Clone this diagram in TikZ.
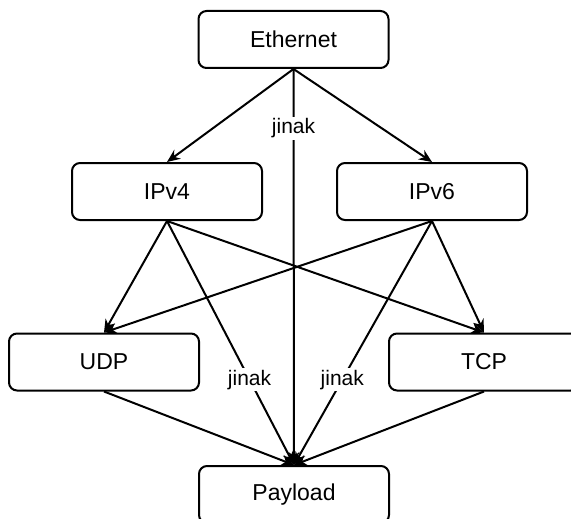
\documentclass[tikz,border=0pt]{standalone}
\usepackage{fontspec}
\setmainfont{Liberation Sans}
\usetikzlibrary{arrows.meta}
\begin{document}
\begin{tikzpicture}[x=1pt,y=-1pt,
  box/.style={draw, line width=2pt, rounded corners=8pt, minimum width=190pt, minimum height=57pt, inner sep=0pt, font=\fontsize{23}{27}\selectfont},
  conn/.style={line width=2pt, -{Stealth[length=13pt,width=11pt]}},
  lbl/.style={fill=white, inner sep=1.5pt, font=\fontsize{21}{24}\selectfont}]
\useasboundingbox (0,0) rectangle (571,519);
\node[box] (eth) at (293.5,39.5) {Ethernet};
\node[box] (ipv4) at (167,191.5) {IPv4};
\node[box] (ipv6) at (432,191.5) {IPv6};
\node[box] (udp) at (104,362) {UDP};
\node[box] (tcp) at (484,362) {TCP};
\node[box] (pay) at (294,494.5) {Payload};
\draw[conn] (eth.south) -- (ipv4.north);
\draw[conn] (eth.south) -- (ipv6.north);
\draw[conn] (eth.south) -- node[lbl, pos=0.15] (l1) {jinak} (pay.north);
\draw[conn] (ipv4.south) -- (udp.north);
\draw[conn] (ipv4.south) -- (tcp.north);
\draw[conn] (ipv4.south) -- node[lbl, pos=0.65] (l2) {jinak} (pay.north);
\draw[conn] (ipv6.south) -- (udp.north);
\draw[conn] (ipv6.south) -- (tcp.north);
\draw[conn] (ipv6.south) -- node[lbl, pos=0.65] (l3) {jinak} (pay.north);
\draw[conn] (udp.south) -- (pay.north);
\draw[conn] (tcp.south) -- (pay.north);
\end{tikzpicture}
\end{document}
